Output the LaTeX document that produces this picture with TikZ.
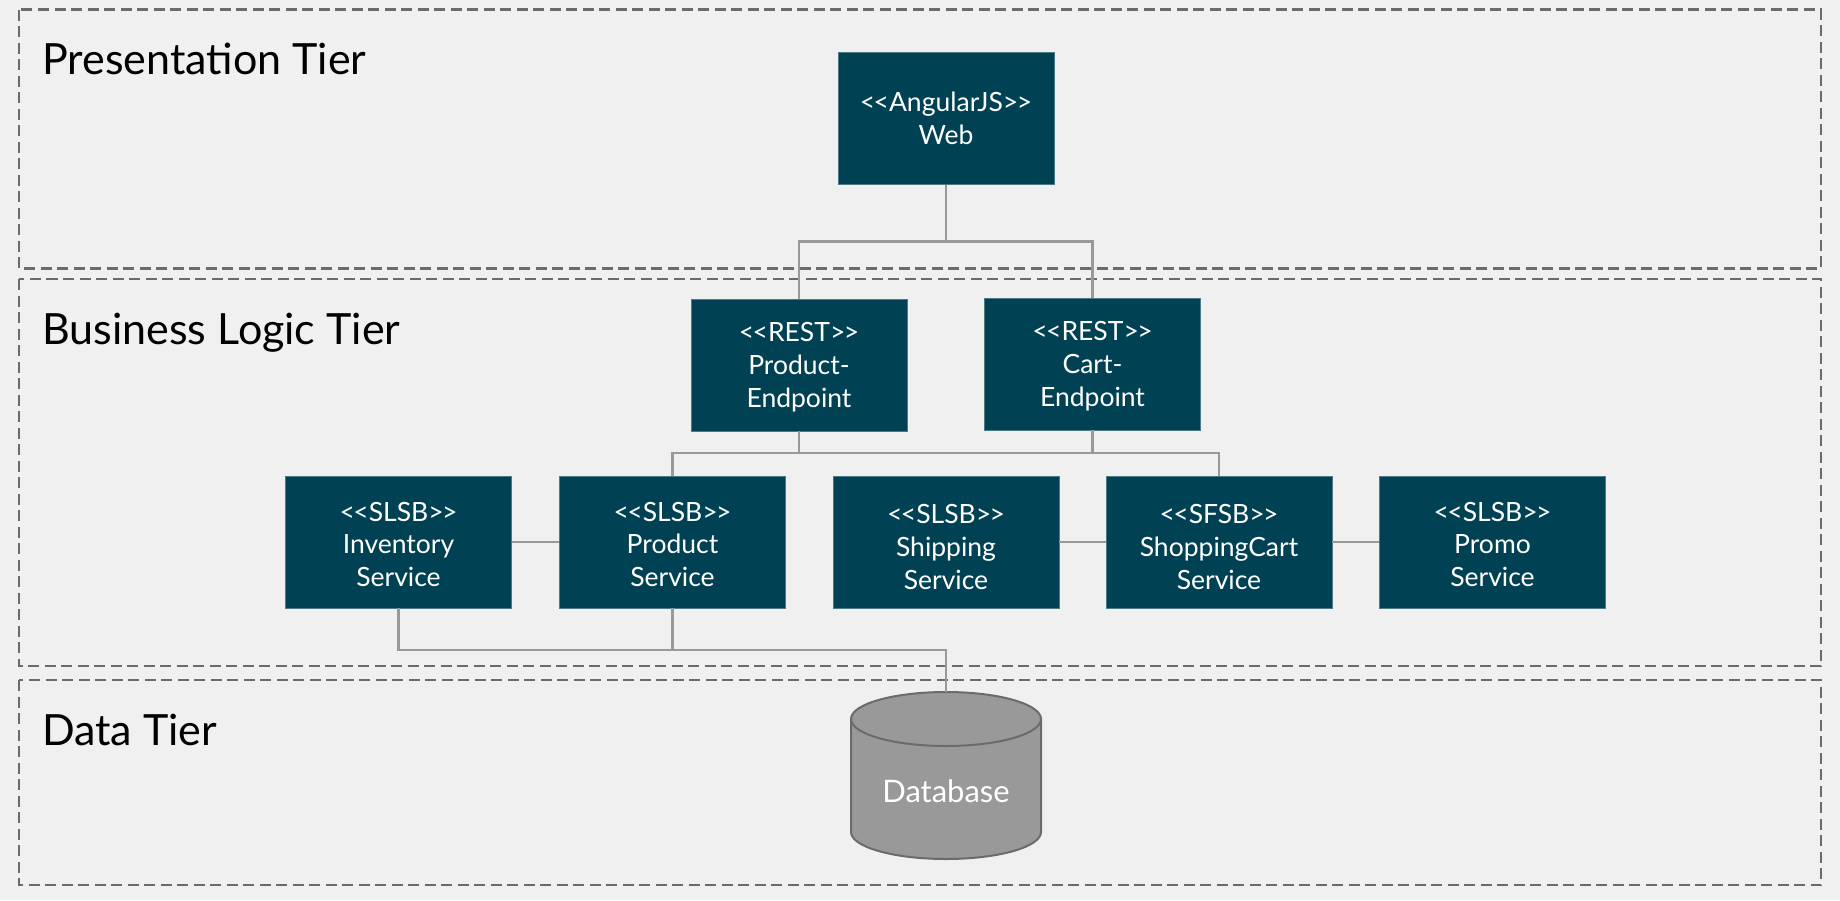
\documentclass[tikz,border=0pt]{standalone}
\usepackage{fontspec}
\setmainfont{Lato}
\definecolor{pagegray}{HTML}{F0F0F0}
\definecolor{boxteal}{HTML}{004254}
\definecolor{wiregray}{HTML}{999999}
\definecolor{framegray}{HTML}{6B6B6B}
\newcommand{\midline}{\rule{0pt}{24pt}}
\newcommand{\lowline}{\rule{0pt}{29pt}}
\newcommand{\stereo}[1]{<\kern-1.6pt<#1>\kern-1.6pt>}
\tikzset{
  box/.style={rectangle,fill=boxteal,draw=boxteal!70!white,line width=.8pt,text=white,align=center,
    minimum width=226pt,minimum height=132pt,inner sep=0pt,font=\fontsize{26.5}{32.8}\selectfont},
  wire/.style={draw=wiregray,line width=2.6pt},
  tierframe/.style={draw=framegray,line width=2.2pt,dash pattern=on 11pt off 5.5pt},
  tierlabel/.style={anchor=base west,inner sep=0pt,font=\fontsize{43}{48}\selectfont},
  dbshape/.style={draw=framegray,line width=2pt,fill=wiregray}
}
\begin{document}
\begin{tikzpicture}[x=1pt,y=-1pt]
	\fill[pagegray] (0,0) rectangle (1840,900);
	\useasboundingbox (0,0) rectangle (1840,900);
	%TIERS
	\draw[tierframe] (19,9.5) rectangle (1821,268.5);
	\draw[tierframe] (19,279) rectangle (1821,666);
	\draw[tierframe] (19,680) rectangle (1821,885);
	\node[tierlabel] (presentation) at (42,74) {Presentation Tier};
	\node[tierlabel] (business) at (42,344) {Business Logic Tier};
	\node[tierlabel] (data) at (42,745) {Data Tier};
	%BOXES
	\node[box,minimum width=216pt] (web) at (946,118.5) {\stereo{AngularJS}\\Web};
	\node[box,minimum width=216pt] (prodend) at (799,365) {\midline\stereo{REST}\\Product-\\Endpoint};
	\node[box,minimum width=216pt] (cartend) at (1092.5,364) {\midline\stereo{REST}\\Cart-\\Endpoint};
	\node[box] (inventory) at (398.5,542) {\midline\stereo{SLSB}\\Inventory\\Service};
	\node[box] (product) at (672.5,542) {\midline\stereo{SLSB}\\Product\\Service};
	\node[box] (shipping) at (946,542) {\lowline\stereo{SLSB}\\Shipping\\Service};
	\node[box] (cart) at (1219,542) {\lowline\stereo{SFSB}\\ShoppingCart\\Service};
	\node[box] (promo) at (1492.5,542) {\midline\stereo{SLSB}\\Promo\\Service};
	%DATABASE
	\draw[dbshape] (851,719) arc[start angle=180,end angle=0,x radius=95pt,y radius=27pt] -- (1041,832)
		arc[start angle=0,end angle=-180,x radius=95pt,y radius=27pt] -- cycle;
	\draw[dbshape,fill=none] (851,719) arc[start angle=180,end angle=360,x radius=95pt,y radius=27pt];
	\node[text=white,font=\fontsize{31}{34}\selectfont] (db) at (946,791) {Database};
	%CONNECTORS
	\coordinate (dbtop) at (946,692);
	\coordinate (webjoin) at (946,241.5);
	\coordinate (endjoin) at (799,453);
	\coordinate (cartjoin) at (1092.5,453);
	\coordinate (dbjoin) at (672.5,650);
	\draw[wire] (web.south) -- (webjoin) -| (prodend.north);
	\draw[wire] (webjoin) -| (cartend.north);
	\draw[wire] (prodend.south) -- (endjoin) -| (product.north);
	\draw[wire] (cartend.south) -- (cartjoin) -| (cart.north);
	\draw[wire] (endjoin) -- (cartjoin);
	\draw[wire] (inventory.east) -- (product.west);
	\draw[wire] (shipping.east) -- (cart.west);
	\draw[wire] (cart.east) -- (promo.west);
	\draw[wire] (product.south) -- (dbjoin);
	\draw[wire] (inventory.south) |- (dbjoin) -| (dbtop);
\end{tikzpicture}
\end{document}
